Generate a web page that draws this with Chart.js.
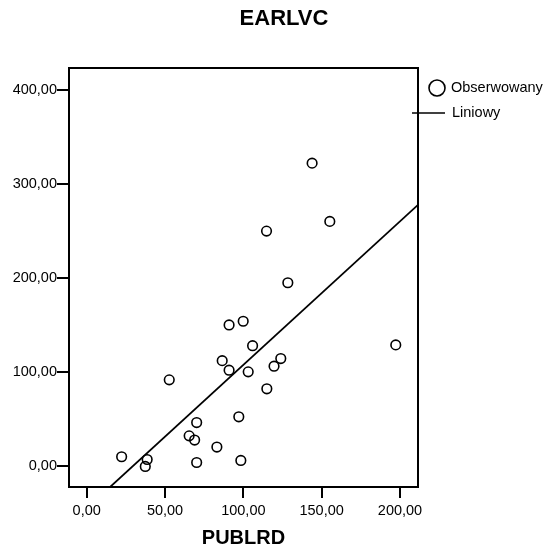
<!DOCTYPE html>
<html>
<head>
<meta charset="utf-8">
<script src="https://cdn.jsdelivr.net/npm/chart.js@4/dist/chart.umd.min.js"></script>
<style>
  html, body { margin: 0; padding: 0; background: #fff; }
  canvas { display: block; }
</style>
</head>
<body>
<canvas id="scatterChart" width="550" height="554"></canvas>
<script>
// data
const chartTitle = 'EARLVC';
const xTitle = 'PUBLRD';
const seriesLabels = ['Obserwowany', 'Liniowy'];

const publrd = [52.7, 22.3, 38.6, 37.4, 70.2, 65.4, 68.9, 70.2, 83.1, 90.9, 99.9, 105.9, 86.5,
  90.9, 103.1, 119.6, 123.9, 115.0, 97.1, 98.4, 143.9, 114.8, 155.2, 128.4, 197.3];
const earlvc = [91.9, 10.3, 7.4, 0.0, 46.6, 32.5, 28.0, 4.2, 20.6, 150.2, 154.1, 128.2, 112.3,
  102.2, 100.4, 106.4, 114.5, 82.4, 52.7, 6.4, 321.9, 249.8, 260.1, 195.0, 129.0];

// fitted line (Liniowy), two ends as seen at the frame
const fitX = [13.8, 211.5];
const fitY = [-23.5, 277.7];

const xTicks = [0, 50, 100, 150, 200];
const xTickLabels = ['0,00', '50,00', '100,00', '150,00', '200,00'];
const yTicks = [0, 100, 200, 300, 400];
const yTickLabels = ['0,00', '100,00', '200,00', '300,00', '400,00'];

const FONT = 'Arial, "Liberation Sans", sans-serif';

// frame round the plot + title + legend
const framePlugin = {
  id: 'frame',
  beforeDraw(chart) {
    const c = chart.ctx;
    c.save();
    c.fillStyle = '#fff';
    c.fillRect(0, 0, chart.width, chart.height);
    c.restore();
  },
  afterDraw(chart) {
    const c = chart.ctx;
    const a = chart.chartArea;
    c.save();
    c.strokeStyle = '#000';
    c.lineWidth = 2;
    c.strokeRect(a.left, a.top, a.right - a.left, a.bottom - a.top);

    // title
    c.fillStyle = '#000';
    c.font = 'bold 22px ' + FONT;
    c.textAlign = 'center';
    c.textBaseline = 'middle';
    c.fillText(chartTitle, 284, 19);

    // legend
    const ds = chart.data.datasets;
    c.font = '14.5px ' + FONT;
    c.textAlign = 'left';
    c.lineWidth = 1.6;
    c.beginPath();
    c.arc(437, 88, 8, 0, Math.PI * 2);
    c.stroke();
    c.fillText(ds[0].label, 451, 88);
    c.beginPath();
    c.moveTo(412, 113);
    c.lineTo(445, 113);
    c.stroke();
    c.fillText(ds[1].label, 452, 113);
    c.restore();
  }
};

const ctx = document.getElementById('scatterChart').getContext('2d');

const chart = new Chart(ctx, {
  type: 'scatter',
  data: {
    datasets: [{
      label: seriesLabels[0],
      data: publrd.map((x, i) => ({ x: x, y: earlvc[i] })),
      pointStyle: 'circle',
      pointRadius: 4.8,
      borderWidth: 1.6,
      borderColor: '#000',
      backgroundColor: 'rgba(0,0,0,0)'
    }, {
      type: 'line',
      label: seriesLabels[1],
      data: fitX.map((x, i) => ({ x: x, y: fitY[i] })),
      borderColor: '#000',
      borderWidth: 1.8,
      pointRadius: 0,
      fill: false,
      tension: 0
    }]
  },
  options: {
    responsive: false,
    animation: false,
    devicePixelRatio: 1,
    layout: { padding: { top: 68, right: 132, left: 0, bottom: 0 } },
    plugins: {
      legend: { display: false },
      title: { display: false },
      tooltip: { enabled: false }
    },
    scales: {
      x: {
        type: 'linear',
        min: -11.3,
        max: 211.5,
        afterBuildTicks: (s) => { s.ticks = xTicks.map(v => ({ value: v })); },
        afterFit: (s) => { s.height = 67; },
        border: { display: true, color: '#000', width: 2 },
        grid: { drawOnChartArea: false, drawTicks: true, tickLength: 11, color: '#000', lineWidth: 2 },
        ticks: {
          padding: 4,
          color: '#000',
          maxRotation: 0,
          font: { family: FONT, size: 14.5 },
          callback: (v, i) => xTickLabels[i]
        },
        title: {
          display: true,
          text: xTitle,
          color: '#000',
          font: { family: FONT, size: 20, weight: 'bold' },
          padding: { top: 0, bottom: 4 }
        }
      },
      y: {
        type: 'linear',
        min: -21.8,
        max: 422.9,
        afterBuildTicks: (s) => { s.ticks = yTicks.map(v => ({ value: v })); },
        afterFit: (s) => { s.width = 69; },
        border: { display: true, color: '#000', width: 2 },
        grid: { drawOnChartArea: false, drawTicks: true, tickLength: 12, color: '#000', lineWidth: 2 },
        ticks: {
          padding: 0,
          color: '#000',
          font: { family: FONT, size: 14.5 },
          callback: (v, i) => yTickLabels[i]
        }
      }
    }
  },
  plugins: [framePlugin]
});
</script>
</body>
</html>
